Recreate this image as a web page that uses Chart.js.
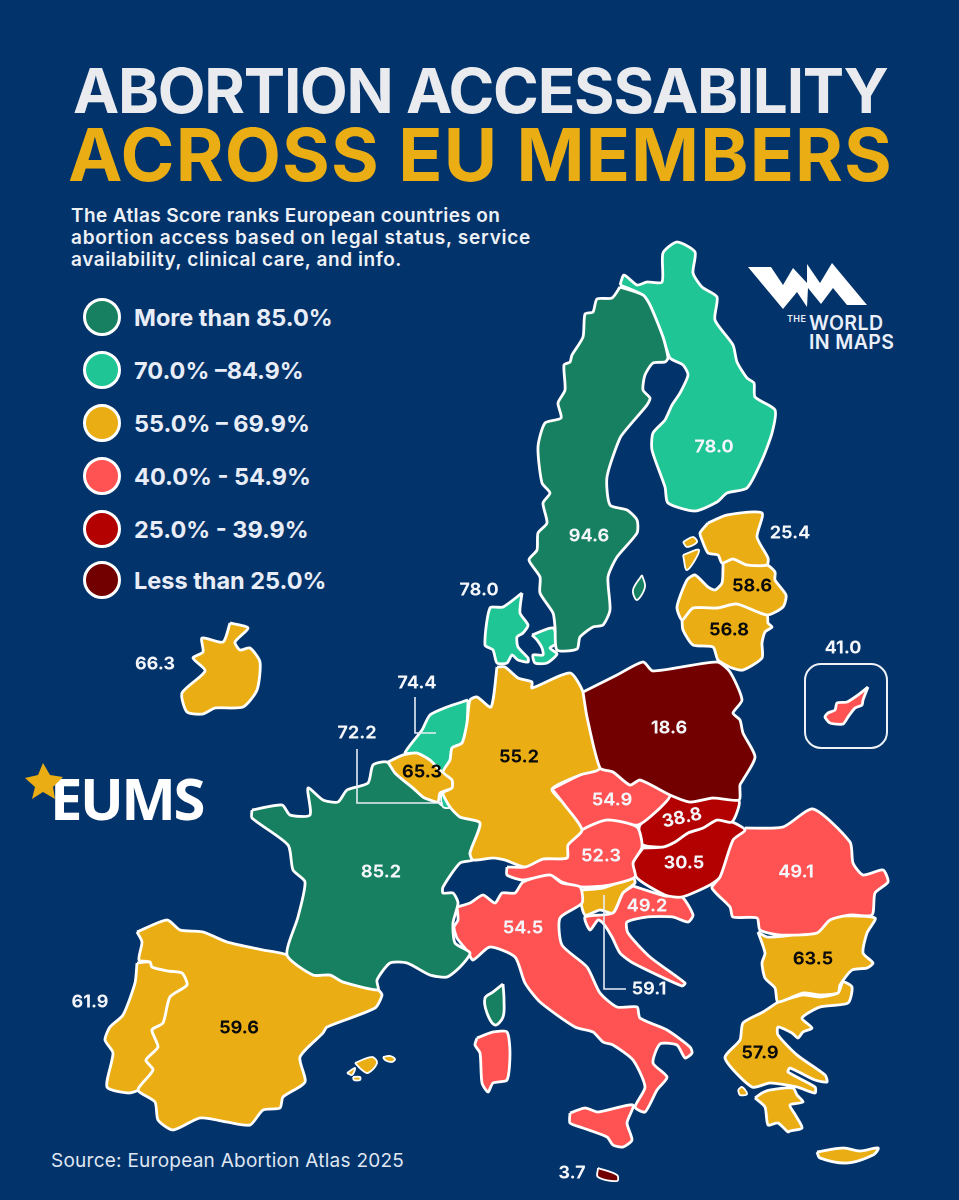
<!DOCTYPE html>
<html>
<head>
<meta charset="utf-8">
<title>Abortion Accessability Across EU Members</title>
<script src="https://cdn.jsdelivr.net/npm/chart.js@4"></script>
<style>
	html, body { margin: 0; padding: 0; background: #02336a; }
	#page { position: relative; width: 959px; height: 1200px; overflow: hidden; background: #02336a; font-family: Inter, sans-serif; }
	#page canvas { position: absolute; left: 0; top: 0; z-index: 2; }
	.txt { position: absolute; white-space: nowrap; margin: 0; }
	#t1 { left: 73px; top: 53px; font-size: 62px; line-height: 76px; font-weight: 700; color: #e9ebef; letter-spacing: -1.25px; }
	#t2 { left: 68px; top: 110px; font-size: 73px; line-height: 90px; font-weight: 700; color: #eaae14; letter-spacing: 1.1px; }
	.sub { left: 71px; font-size: 19px; line-height: 22px; font-weight: 600; color: #eef1f6; letter-spacing: 0.33px; }
	#source { left: 51px; top: 1150px; font-size: 19px; line-height: 22px; font-weight: 400; color: #dfe6f2; letter-spacing: 0.25px; }
	.swatch { position: absolute; left: 83px; width: 32px; height: 32px; border: 3px solid #fff; border-radius: 50%; }
	.lg { left: 134px; font-size: 23.5px; line-height: 28px; font-weight: 700; color: #e8edf7; }
	#eums { left: 50px; top: 758px; font-family: "Open Sans", sans-serif; font-size: 58px; line-height: 80px; font-weight: 700; color: #fff; letter-spacing: -2.5px; }
	#box { position: absolute; left: 804px; top: 663px; width: 80px; height: 82px; border: 2px solid #eef1f6; border-radius: 17px; }
	.wm { font-weight: 600; color: #eaf0fa; letter-spacing: 0.4px; }
</style>
</head>
<body>
<div id="page">
	<p class="txt" id="t1">ABORTION ACCESSABILITY</p>
	<p class="txt" id="t2">ACROSS EU MEMBERS</p>
	<p class="txt sub" style="top:205px;letter-spacing:0.38px">The Atlas Score ranks European countries on</p>
	<p class="txt sub" style="top:227px;letter-spacing:0.76px">abortion access based on legal status, service</p>
	<p class="txt sub" style="top:249px;letter-spacing:0.58px">availability, clinical care, and info.</p>
	<div id="legend"></div>
	<p class="txt" id="source">Source: European Abortion Atlas 2025</p>
	<p class="txt" id="eums">EUMS</p>
	<p class="txt wm" style="left:787px;top:313px;font-size:9px;line-height:12px">THE</p>
	<p class="txt wm" style="left:809px;top:312px;font-size:19.5px;line-height:22px">WORLD</p>
	<p class="txt wm" style="left:809px;top:331px;font-size:19.5px;line-height:22px">IN MAPS</p>
	<div id="box"></div>
	<canvas id="map" width="959" height="1200"></canvas>
</div>
<script>
// Legend bands
var bandLabels = ['More than 85.0%', '70.0% –84.9%', '55.0% – 69.9%', '40.0% - 54.9%', '25.0% - 39.9%', 'Less than 25.0%'];
var bandColors = ['#178060', '#1fc595', '#eaae14', '#ff5252', '#b30000', '#730000'];
var legendTops = [298, 351, 404, 457, 510, 561];

// Countries, scores and the legend band each one is painted with
var countryNames = ['Sweden', 'Finland', 'Denmark', 'Estonia', 'Latvia', 'Lithuania', 'Poland', 'Germany', 'Netherlands', 'Belgium', 'Luxembourg', 'France', 'Ireland', 'Spain', 'Portugal', 'Italy', 'Austria', 'Czechia', 'Slovakia', 'Hungary', 'Romania', 'Bulgaria', 'Greece', 'Croatia', 'Slovenia', 'Cyprus', 'Malta'];
var scores = ['94.6', '78.0', '78.0', '25.4', '58.6', '56.8', '18.6', '55.2', '74.4', '65.3', '72.2', '85.2', '66.3', '59.6', '61.9', '54.5', '52.3', '54.9', '38.8', '30.5', '49.1', '63.5', '57.9', '49.2', '59.1', '41.0', '3.7'];
var bands = [0, 1, 1, 2, 2, 2, 5, 2, 1, 2, 1, 0, 2, 2, 2, 3, 3, 3, 4, 4, 3, 2, 2, 3, 2, 3, 5];

// Where each score is written, in map units
var labelX = [589, 714, 479, 790, 752, 729, 669, 519, 417, 422, 357, 381, 155, 239, 90, 523, 601, 612, 682, 684, 796, 813, 760, 647, 649, 843, 572];
var labelY = [536, 447, 590, 533, 586, 630, 728, 757, 683, 772, 733, 872, 664, 1028, 1002, 928, 856, 800, 818, 863, 872, 959, 1053, 906, 989, 648, 1173];
var labelDark = [0, 0, 0, 0, 1, 1, 0, 1, 0, 1, 0, 0, 0, 1, 0, 0, 0, 0, 0, 0, 0, 1, 1, 0, 0, 0, 0];
var labelAngle = [0, 0, 0, 0, 0, 0, 0, 0, 0, 0, 0, 0, 0, 0, 0, 0, 0, 0, -0.22, 0, 0, 0, 0, 0, 0, 0, 0];

// Outlines, in map units
var sweden = [[620,287],[612,298],[597,299],[593,312],[585,314],[583,337],[572,355],[570,362],[564,365],[565,390],[558,403],[561,418],[545,423],[538,447],[542,483],[550,493],[543,503],[547,523],[538,533],[537,550],[529,560],[540,577],[540,593],[553,613],[555,627],[557,650],[577,649],[580,637],[593,627],[603,625],[610,610],[608,577],[617,557],[637,533],[637,520],[627,510],[610,505],[607,477],[620,438],[630,425],[647,405],[650,398],[643,390],[645,375],[653,363],[665,362],[668,358],[663,337],[650,305],[643,295]];
var gotland = [[642,575],[645,587],[637,600],[633,590]];
var finland = [[620,285],[624,275],[637,285],[647,282],[662,282],[663,253],[677,242],[695,252],[693,273],[702,287],[717,297],[715,320],[733,345],[737,362],[747,378],[754,383],[755,397],[775,410],[772,433],[762,460],[747,488],[727,493],[717,502],[695,511],[668,503],[665,487],[652,450],[653,433],[665,420],[672,405],[680,393],[688,375],[683,365],[670,358],[663,337],[650,305],[643,295]];
var jutland = [[522,593],[520,613],[528,625],[523,633],[517,637],[518,647],[528,658],[528,662],[518,660],[512,655],[507,663],[497,663],[493,650],[485,645],[490,608],[503,607]];
var zealand = [[532,635],[553,628],[557,643],[550,648],[557,654],[547,663],[535,663],[533,655],[543,655],[542,648],[537,640]];
var estonia = [[708,523],[727,515],[762,513],[757,537],[768,558],[767,565],[747,565],[733,559],[722,563],[718,555],[708,553],[702,540],[700,533]];
var hiiumaa = [[683,542],[693,537],[697,542],[687,547]];
var saaremaa = [[683,555],[699,550],[687,570]];
var latvia = [[723,563],[733,559],[747,565],[767,565],[775,572],[775,580],[786,595],[783,607],[767,615],[737,604],[717,608],[693,608],[682,620],[677,607],[687,580],[695,575],[708,587],[715,590],[722,583],[723,568]];
var lithuania = [[682,620],[693,608],[717,608],[737,604],[767,615],[768,623],[772,627],[765,632],[762,643],[762,658],[743,670],[732,668],[718,660],[713,647],[693,645],[683,630]];
var poland = [[583,692],[617,675],[643,662],[653,671],[717,662],[730,672],[742,700],[733,713],[740,720],[743,733],[755,757],[743,780],[740,785],[739,800],[713,798],[690,802],[670,795],[640,780],[630,785],[613,772],[600,768],[587,717]];
var germany = [[497,667],[505,667],[518,678],[532,682],[532,688],[570,673],[583,692],[587,717],[600,768],[580,775],[552,789],[563,803],[582,830],[568,845],[567,858],[543,859],[525,867],[505,860],[493,858],[473,860],[470,853],[480,823],[460,817],[450,807],[443,793],[452,788],[452,780],[443,772],[450,760],[452,748],[462,743],[467,723],[470,700],[477,697],[491,707]];
var netherlands = [[468,700],[467,723],[462,743],[452,748],[450,760],[443,772],[430,760],[417,753],[405,753],[422,730],[430,715],[447,707]];
var belgium = [[388,762],[403,755],[417,753],[430,760],[443,772],[452,780],[452,788],[440,793],[438,802],[430,800],[423,797],[413,788],[403,780],[395,773]];
var luxembourg = [[443,792],[450,807],[443,807],[441,797]];
var france = [[252,810],[282,805],[290,815],[310,815],[308,788],[323,800],[338,802],[347,790],[368,783],[373,765],[387,762],[395,773],[403,780],[413,788],[423,797],[430,800],[438,802],[442,805],[452,808],[460,817],[480,823],[470,853],[473,860],[460,863],[443,887],[443,893],[453,893],[458,903],[453,923],[455,943],[470,953],[460,967],[447,977],[430,975],[407,963],[390,963],[377,980],[378,990],[343,982],[330,975],[313,975],[287,955],[298,917],[305,882],[293,870],[288,845],[252,818]];
var corsica = [[503,984],[504,1000],[503,1017],[495,1025],[487,1013],[485,998],[493,992]];
var ireland = [[230,623],[248,628],[235,642],[240,650],[250,648],[260,662],[257,690],[243,707],[215,708],[203,714],[187,712],[182,693],[205,671],[193,658],[203,652],[202,638],[223,642]];
var spain = [[137,932],[167,920],[180,930],[203,932],[227,942],[263,950],[287,955],[313,975],[330,975],[343,982],[378,990],[382,995],[375,1008],[327,1027],[323,1033],[300,1057],[305,1082],[283,1097],[280,1108],[263,1110],[250,1125],[227,1122],[200,1118],[173,1130],[158,1120],[155,1102],[138,1090],[153,1070],[146,1060],[158,1047],[152,1030],[163,1023],[170,997],[187,985],[182,973],[168,971],[152,967],[150,962],[139,960],[142,942]];
var mallorca = [[355,1063],[372,1057],[377,1063],[368,1073],[362,1070]];
var menorca = [[383,1057],[390,1056],[395,1059],[392,1062],[385,1060]];
var ibiza = [[347,1073],[355,1068],[352,1075]];
var formentera = [[353,1077],[360,1077],[360,1080],[354,1080]];
var portugal = [[137,963],[150,962],[152,967],[168,971],[182,973],[187,985],[170,997],[163,1023],[152,1030],[158,1047],[146,1060],[153,1070],[138,1090],[128,1093],[107,1087],[113,1053],[105,1040],[110,1027],[123,1015],[135,983]];
var italy = [[457,907],[470,903],[483,895],[495,903],[502,893],[515,893],[523,882],[550,875],[562,883],[580,887],[582,903],[560,918],[562,945],[587,967],[600,993],[617,1007],[637,1007],[640,1018],[667,1030],[690,1047],[692,1053],[685,1058],[677,1045],[660,1044],[653,1063],[667,1077],[657,1090],[645,1112],[635,1107],[645,1087],[633,1060],[613,1045],[603,1042],[593,1032],[575,1027],[540,1002],[525,983],[515,957],[490,947],[473,960],[468,952],[457,938],[454,927],[458,920]];
var sardinia = [[477,1038],[493,1032],[507,1032],[510,1053],[507,1080],[493,1083],[488,1092],[482,1083],[480,1053],[475,1045]];
var sicily = [[570,1113],[585,1108],[598,1112],[633,1105],[627,1123],[632,1140],[623,1147],[613,1145],[607,1137],[583,1128],[570,1123]];
var austria = [[507,867],[525,867],[543,859],[567,858],[568,845],[582,830],[607,820],[637,827],[642,847],[633,863],[635,877],[610,885],[582,887],[562,882],[550,875],[523,880],[507,875]];
var czechia = [[552,789],[580,775],[600,768],[613,772],[630,785],[640,780],[670,795],[660,808],[638,825],[607,820],[582,830],[563,803]];
var slovakia = [[670,795],[690,802],[713,798],[739,801],[732,822],[717,820],[703,828],[688,833],[675,842],[663,847],[643,845],[639,835],[640,825],[660,808]];
var hungary = [[643,848],[663,847],[675,842],[688,833],[703,828],[717,820],[732,822],[745,830],[733,840],[720,877],[710,885],[682,897],[665,895],[637,878],[633,863]];
var romania = [[745,828],[783,827],[813,809],[850,842],[853,863],[863,875],[883,870],[888,882],[875,893],[872,915],[850,915],[830,920],[817,933],[780,935],[760,930],[757,918],[733,917],[730,907],[712,888],[720,877],[733,840]];
var bulgaria = [[758,932],[767,937],[793,935],[812,930],[833,917],[875,918],[867,933],[863,953],[873,963],[867,968],[852,970],[840,985],[838,993],[820,995],[803,993],[778,1002],[775,988],[765,978],[762,963],[765,953]];
var greece = [[778,1002],[803,995],[820,997],[838,993],[843,982],[852,987],[848,1003],[820,1007],[802,1018],[812,1028],[803,1032],[798,1038],[792,1033],[778,1027],[778,1035],[797,1055],[825,1075],[827,1082],[815,1080],[790,1068],[788,1072],[815,1087],[815,1093],[797,1087],[770,1083],[752,1087],[725,1058],[740,1040],[743,1023],[763,1012]];
var peloponnese = [[755,1098],[762,1093],[770,1090],[793,1088],[797,1095],[803,1102],[790,1105],[796,1116],[802,1128],[790,1131],[788,1132],[778,1123],[768,1125],[765,1107]];
var crete = [[817,1152],[843,1148],[860,1151],[878,1148],[873,1155],[847,1163],[820,1158]];
var kefalonia = [[738,1090],[742,1087],[747,1094],[740,1095]];
var croatia = [[633,886],[665,896],[682,897],[693,915],[688,922],[673,917],[647,917],[627,922],[628,933],[650,957],[685,983],[682,986],[633,963],[620,953],[612,937],[603,923],[598,920],[590,930],[585,917],[613,913],[623,893]];
var slovenia = [[582,890],[603,888],[633,878],[635,883],[623,893],[613,913],[600,910],[585,915],[580,897]];
var cyprus = [[868,687],[863,700],[862,705],[855,708],[848,717],[843,724],[830,723],[825,717],[828,713],[835,710],[837,703],[847,702],[858,695]];
var malta = [[598,1168],[617,1175],[617,1181],[598,1177]];

// Parts of each country, same order as countryNames
var countryParts = [[sweden, gotland], [finland], [jutland, zealand], [estonia, hiiumaa, saaremaa], [latvia], [lithuania], [poland], [germany], [netherlands], [belgium], [luxembourg], [france, corsica], [ireland], [spain, mallorca, menorca, ibiza, formentera], [portugal], [italy, sardinia, sicily], [austria], [czechia], [slovakia], [hungary], [romania], [bulgaria], [greece, peloponnese, crete, kefalonia], [croatia], [slovenia], [cyprus], [malta]];

// Leader lines from outside scores
var leaderNetherlands = [[415,697],[415,733],[436,733]];
var leaderLuxembourg = [[357,749],[357,803],[443,803]];
var leaderSlovenia = [[604,895],[604,989],[626,989]];

// Logo marks
var eumsStar = [[43,763],[50,775],[63,777],[53,787],[55,799],[43,792],[32,799],[35,787],[25,778],[38,775]];
var wmMark = [[748,267],[771,267],[783,285],[793,268],[807,283],[807,264],[820,283],[832,263],[867,305],[847,305],[833,288],[821,304],[808,288],[807,307],[797,292],[783,309]];

function toPoints(pairs, closed) {
	var pts = pairs.map(function (p) {
		return { x: p[0], y: p[1] };
	});
	if (closed) {
		pts.push({ x: pairs[0][0], y: pairs[0][1] });
	}
	return pts;
}

function buildDatasets() {
	var sets = [];
	countryParts.forEach(function (parts, i) {
		parts.forEach(function (part) {
			sets.push({
				label: countryNames[i],
				data: toPoints(part, true),
				showLine: true,
				fill: 'shape',
				backgroundColor: bandColors[bands[i]],
				borderColor: '#ffffff',
				borderWidth: part.length < 6 ? 1.8 : 2.8,
				borderJoinStyle: 'round',
				tension: part.length < 8 ? 0.35 : 0.22,
				pointRadius: 0,
				order: 2
			});
		});
	});
	[leaderNetherlands, leaderLuxembourg, leaderSlovenia].forEach(function (line) {
		sets.push({ label: 'leader', data: toPoints(line, false), showLine: true, fill: false, borderColor: '#e8edf7', borderWidth: 1.6, pointRadius: 0, tension: 0, order: 1 });
	});
	sets.push({ label: 'EUMS star', data: toPoints(eumsStar, true), showLine: true, fill: 'shape', backgroundColor: '#eaae14', borderWidth: 0, pointRadius: 0, tension: 0, order: 1 });
	sets.push({ label: 'WM mark', data: toPoints(wmMark, true), showLine: true, fill: 'shape', backgroundColor: '#ffffff', borderWidth: 0, pointRadius: 0, tension: 0, order: 1 });
	return sets;
}

// Writes the scores on top of the map
var scoreLabels = {
	id: 'scoreLabels',
	afterDatasetsDraw: function (chart) {
		var ctx = chart.ctx;
		ctx.save();
		ctx.font = '700 18px Inter, sans-serif';
		ctx.textAlign = 'center';
		ctx.textBaseline = 'middle';
		scores.forEach(function (score, i) {
			ctx.save();
			ctx.translate(chart.scales.x.getPixelForValue(labelX[i]), chart.scales.y.getPixelForValue(labelY[i]));
			ctx.rotate(labelAngle[i]);
			ctx.fillStyle = labelDark[i] ? '#0a0a0a' : '#f4f6fa';
			ctx.fillText(score, 0, 0);
			ctx.restore();
		});
		ctx.restore();
	}
};

var legendEl = document.getElementById('legend');
bandLabels.forEach(function (text, i) {
	var dot = document.createElement('div');
	dot.className = 'swatch';
	dot.style.top = legendTops[i] + 'px';
	dot.style.background = bandColors[i];
	legendEl.appendChild(dot);
	var lab = document.createElement('p');
	lab.className = 'txt lg';
	lab.style.top = (legendTops[i] + 6) + 'px';
	lab.textContent = text;
	legendEl.appendChild(lab);
});

new Chart(document.getElementById('map').getContext('2d'), {
	type: 'scatter',
	data: { datasets: buildDatasets() },
	options: {
		responsive: false,
		animation: false,
		devicePixelRatio: 2,
		layout: { padding: 0 },
		plugins: {
			legend: { display: false },
			tooltip: { enabled: false },
			filler: { propagate: false }
		},
		scales: {
			x: { type: 'linear', min: 0, max: 959, display: false },
			y: { type: 'linear', min: 0, max: 1200, reverse: true, display: false }
		}
	},
	plugins: [scoreLabels]
});
</script>
</body>
</html>
